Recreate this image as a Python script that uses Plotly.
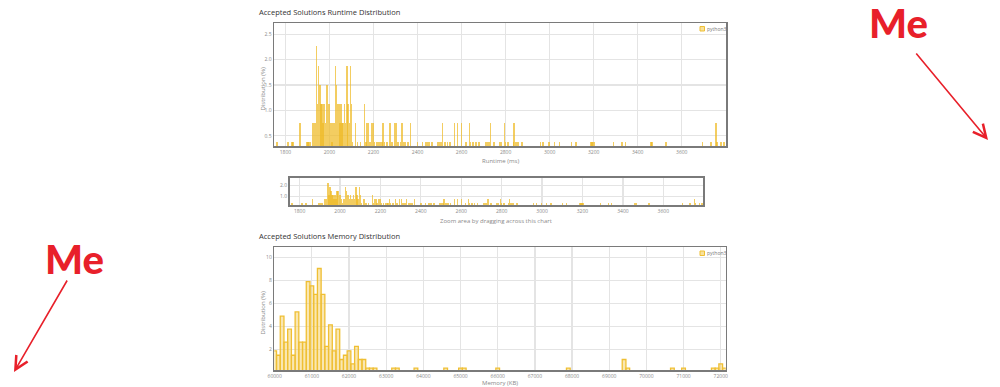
import plotly.graph_objects as go

# ---------------- data ----------------
runtime_ms = [1762, 1812, 1830, 1835, 1865, 1897, 1902, 1908, 1913, 1922, 1928, 1934,
              1941, 1946, 1950, 1956, 1961, 1966, 1971, 1976, 1981, 1986, 1991, 1996,
              2001, 2006, 2011, 2016, 2022, 2027, 2032, 2037, 2042, 2047, 2052, 2057,
              2062, 2068, 2073, 2080, 2085, 2090, 2095, 2100, 2105, 2118, 2128, 2140,
              2160, 2166, 2171, 2178, 2184, 2190, 2198, 2204, 2215, 2225, 2232, 2238,
              2244, 2250, 2262, 2274, 2283, 2295, 2303, 2312, 2322, 2330, 2338, 2346,
              2356, 2368, 2400, 2423, 2438, 2446, 2453, 2466, 2494, 2502, 2509, 2514,
              2524, 2535, 2547, 2567, 2582, 2600, 2620, 2635, 2641, 2653, 2665, 2680,
              2710, 2718, 2725, 2732, 2747, 2774, 2782, 2794, 2800, 2812, 2835, 2839,
              2847, 2857, 2875, 2959, 2971, 2997, 3021, 3044, 3100, 3120, 3188, 3193,
              3198, 3203, 3289, 3329, 3344, 3460, 3466, 3529, 3695, 3733, 3755, 3760,
              3779, 3791]
runtime_pct = [0.38, 0.38, 0.38, 0.38, 0.75, 0.38, 0.38, 0.38, 0.38, 0.75, 0.75, 0.75,
               2.26, 1.13, 1.88, 1.5, 1.13, 1.13, 0.75, 1.13, 0.75, 1.5, 1.5, 1.13,
               1.13, 0.75, 0.38, 0.75, 0.75, 1.88, 1.5, 1.13, 1.13, 0.75, 1.13, 0.75,
               0.75, 1.13, 0.75, 1.88, 1.13, 0.75, 1.88, 1.13, 0.38, 0.75, 0.38, 0.38,
               1.13, 0.38, 0.75, 0.75, 0.38, 0.75, 0.75, 0.38, 0.38, 0.38, 0.38, 0.38,
               0.75, 0.38, 0.38, 0.75, 0.38, 0.75, 0.75, 0.38, 0.38, 0.75, 0.38, 0.38,
               0.38, 0.75, 0.38, 0.38, 0.38, 0.38, 0.38, 0.38, 0.38, 0.38, 0.38, 0.75,
               0.38, 0.38, 0.38, 0.75, 0.75, 0.75, 0.38, 0.75, 0.38, 0.38, 0.38, 0.38,
               0.38, 0.38, 0.38, 0.75, 0.38, 0.38, 0.38, 0.75, 0.38, 0.38, 0.38, 0.75,
               0.38, 0.38, 0.38, 0.38, 0.38, 0.38, 0.38, 0.38, 0.38, 0.38, 0.38, 0.38,
               0.38, 0.38, 0.38, 0.38, 0.38, 0.38, 0.38, 0.38, 0.38, 0.38, 0.75, 0.38,
               0.38, 0.38]

memory_kb = [60000, 60100, 60200, 60300, 60400, 60500, 60600, 60700, 60800, 60900,
             61000, 61100, 61200, 61300, 61400, 61500, 61600, 61700, 61800, 61900,
             62000, 62100, 62200, 62300, 62400, 62500, 62600, 62700, 63200, 63300,
             63800, 64600, 65000, 65100, 66000, 67900, 69400, 69500, 70700, 71000,
             71800, 71900, 72000, 72100]
memory_pct = [1.88, 1.5, 4.89, 2.63, 3.76, 1.5, 5.26, 2.63, 2.63, 7.89,
              7.52, 6.77, 9.02, 6.77, 2.26, 4.14, 1.88, 3.76, 1.13, 1.5,
              1.88, 0.75, 2.26, 1.13, 1.13, 0.38, 0.38, 0.38, 0.38, 0.38,
              0.38, 0.38, 0.38, 0.38, 0.38, 0.38, 1.13, 0.38, 0.38, 0.38,
              0.38, 0.38, 0.75, 0.38]

runtime_ticks = [1800, 2000, 2200, 2400, 2600, 2800, 3000, 3200, 3400, 3600]
runtime_pct_ticks = [0.5, 1.0, 1.5, 2.0, 2.5]
nav_pct_ticks = [1.0, 2.0]
memory_ticks = list(range(60000, 72001, 1000))
memory_pct_ticks = [2, 4, 6, 8, 10]
series_name = "python3"

# ---------------- figure ----------------
W, H = 1000, 387
def px(x):
    return x / W
def py(y):
    return 1 - y / H

BAR = "rgba(238,186,36,0.72)"
GRID = "#e4e4e4"
FRAME = "#7a7a7a"
TICKF = dict(family="Open Sans", size=5, color="#8a8a8a")

fig = go.Figure()
fig.add_trace(go.Bar(x=runtime_ms, y=runtime_pct, width=7, name=series_name,
                     marker=dict(color=BAR, line=dict(width=0)),
                     xaxis="x", yaxis="y", showlegend=False))
fig.add_trace(go.Bar(x=runtime_ms, y=runtime_pct, width=7, name=series_name,
                     marker=dict(color=BAR, line=dict(width=0)),
                     xaxis="x2", yaxis="y2", showlegend=False))
fig.add_trace(go.Bar(x=memory_kb, y=memory_pct, width=100, name=series_name,
                     marker=dict(color="rgba(245,208,100,0.5)",
                                 line=dict(width=1.3, color="#efbf33")),
                     xaxis="x3", yaxis="y3", showlegend=False))

def xaxis(domain, rng, ticks):
    return dict(domain=domain, range=rng, tickvals=ticks, ticktext=[str(t) for t in ticks],
                showgrid=True, gridcolor=GRID, gridwidth=1.3, zeroline=False,
                showline=True, mirror=True, linecolor=FRAME, linewidth=1.5,
                ticks="", tickfont=TICKF, fixedrange=True, automargin=False)

def yaxis(domain, rng, ticks, anchor):
    return dict(domain=domain, range=rng, tickvals=ticks,
                ticktext=[(f"{t:.1f}" if isinstance(t, float) else str(t)) for t in ticks],
                showgrid=True, gridcolor=GRID, gridwidth=1.3, zeroline=False,
                showline=True, mirror=True, linecolor=FRAME, linewidth=1.5,
                ticks="", tickfont=TICKF, fixedrange=True, automargin=False, anchor=anchor)

fig.update_layout(
    width=W, height=H, margin=dict(l=0, r=0, t=0, b=0),
    paper_bgcolor="white", plot_bgcolor="white",
    barmode="overlay", bargap=0, hovermode=False,
    xaxis=xaxis([px(274), px(726)], [1748, 3801], runtime_ticks) | dict(anchor="y"),
    yaxis=yaxis([py(146), py(23)], [0.3, 2.72], runtime_pct_ticks, "x"),
    xaxis2=xaxis([px(289.5), px(703.3)], [1750, 3798], runtime_ticks) | dict(anchor="y2"),
    yaxis2=yaxis([py(205.3), py(177.7)], [0.15, 2.75], nav_pct_ticks, "x2"),
    xaxis3=xaxis([px(274.3), px(725.7)], [59990, 72134], memory_ticks) | dict(anchor="y3"),
    yaxis3=yaxis([py(370), py(247.3)], [0.22, 10.86], memory_pct_ticks, "x3"),
    font=dict(family="Open Sans"),
)

ann = []
shapes = []
TITLEF = dict(family="Open Sans", size=7.5, color="#333333")
SUBF = dict(family="Open Sans", size=6, color="#8a8a8a")

ann.append(dict(text="Accepted Solutions Runtime Distribution", x=px(257), y=py(12),
                xref="paper", yref="paper", xanchor="left", yanchor="middle",
                showarrow=False, font=TITLEF))
ann.append(dict(text="Accepted Solutions Memory Distribution", x=px(257), y=py(236),
                xref="paper", yref="paper", xanchor="left", yanchor="middle",
                showarrow=False, font=TITLEF))
ann.append(dict(text="Runtime (ms)", x=px(500), y=py(161.5), xref="paper", yref="paper",
                xanchor="center", yanchor="middle", showarrow=False, font=SUBF))
ann.append(dict(text="Zoom area by dragging across this chart", x=px(496), y=py(220.5),
                xref="paper", yref="paper", xanchor="center", yanchor="middle",
                showarrow=False, font=SUBF))
ann.append(dict(text="Memory (KB)", x=px(500), y=py(382.5), xref="paper", yref="paper",
                xanchor="center", yanchor="middle", showarrow=False, font=SUBF))
for yc in (89, 313):
    ann.append(dict(text="Distribution (%)", x=px(262.5), y=py(yc), xref="paper", yref="paper",
                    xanchor="center", yanchor="middle", textangle=-90, showarrow=False,
                    font=SUBF))

# legends (small square + label) in top-right of main plots
for ytop in (26.5, 251):
    shapes.append(dict(type="rect", xref="paper", yref="paper",
                       x0=px(700), x1=px(704.5), y0=py(ytop + 4.5), y1=py(ytop),
                       fillcolor="rgba(244,205,90,0.6)", line=dict(color="#efbf33", width=1)))
    ann.append(dict(text=series_name, x=px(705), y=py(ytop + 2.3), xref="paper", yref="paper",
                    xanchor="left", yanchor="middle", showarrow=False,
                    font=dict(family="Open Sans", size=5, color="#777777")))

# "Me" annotations with arrows
RED = "#e8202a"
MEF = dict(family="Lato Black, Lato, sans-serif", size=40, color=RED)
ann.append(dict(text="<b>Me</b>", x=px(898), y=py(23), xref="paper", yref="paper",
                xanchor="center", yanchor="middle", showarrow=False, font=MEF))
ann.append(dict(text="<b>Me</b>", x=px(74), y=py(259), xref="paper", yref="paper",
                xanchor="center", yanchor="middle", showarrow=False, font=MEF))
ann.append(dict(text="", x=px(988), y=py(140), xref="paper", yref="paper",
                ax=915 - 988, ay=52 - 140, axref="pixel", ayref="pixel",
                showarrow=True, arrowhead=5, arrowsize=1.6, arrowwidth=1.6, arrowcolor=RED,
                standoff=0, startstandoff=0))
ann.append(dict(text="", x=px(14), y=py(372), xref="paper", yref="paper",
                ax=68 - 14, ay=279 - 372, axref="pixel", ayref="pixel",
                showarrow=True, arrowhead=5, arrowsize=1.6, arrowwidth=1.6, arrowcolor=RED,
                standoff=0, startstandoff=0))

fig.update_layout(annotations=ann, shapes=shapes)
fig.write_html("out.html", config={"displayModeBar": False, "staticPlot": True},
               post_script="document.body.style.margin='0px';document.body.style.overflow='hidden';")
